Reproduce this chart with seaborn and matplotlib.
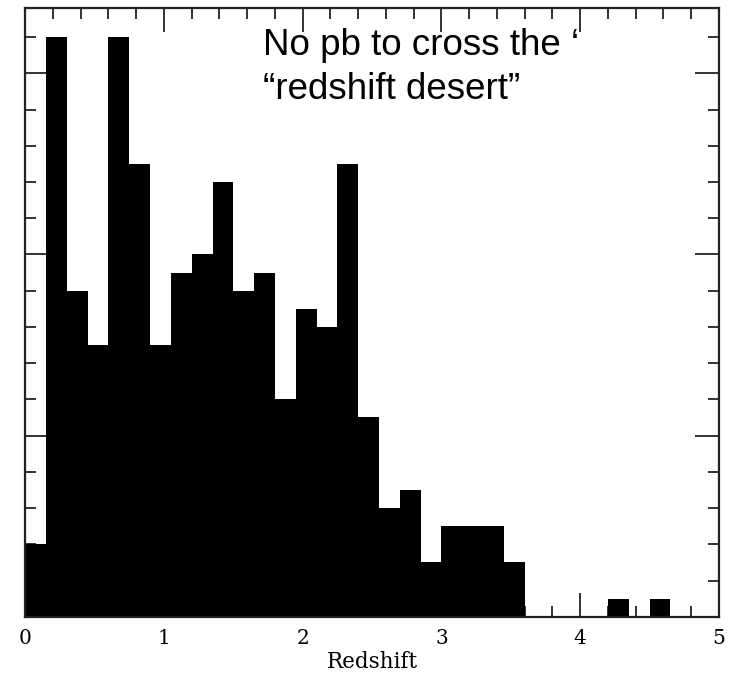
import numpy as np
import pandas as pd
import seaborn as sns
import matplotlib.pyplot as plt
from matplotlib.ticker import MultipleLocator

# ================= DATA =================
BIN_WIDTH = 0.15
counts = [4, 32, 18, 15, 32, 25, 15, 19, 20, 24,
          18, 19, 12, 17, 16, 25, 11, 6, 7, 3,
          5, 5, 5, 3, 0, 0, 0, 0, 1, 0, 1]
bin_edges = np.round(np.arange(len(counts) + 1) * BIN_WIDTH, 2)
bin_centers = bin_edges[:-1] + BIN_WIDTH / 2

df = pd.DataFrame({"z": bin_centers, "n": counts})

# ================= PLOT =================
sns.set_style("ticks")
plt.rcParams["font.family"] = ["DejaVu Serif"]
plt.rcParams["text.color"] = "black"
plt.rcParams["xtick.color"] = "black"
plt.rcParams["ytick.color"] = "black"

fig = plt.figure(figsize=(7.42, 6.77), dpi=100)
ax = fig.add_axes([0.034, 0.089, 0.935, 0.899])

sns.histplot(data=df, x="z", weights="n", bins=bin_edges.tolist(),
             color="black", alpha=1, linewidth=0, ax=ax)

ax.set_xlim(0, 5)
ax.set_ylim(0, 33.6)
ax.xaxis.set_major_locator(MultipleLocator(1))
ax.xaxis.set_minor_locator(MultipleLocator(0.2))
ax.yaxis.set_major_locator(MultipleLocator(10))
ax.yaxis.set_minor_locator(MultipleLocator(2))
ax.tick_params(which="both", direction="in", top=True, right=True,
               width=1.3, color="#222222")
ax.tick_params(which="major", length=17, labelsize=14.5, pad=9)
ax.tick_params(which="minor", length=8)
ax.set_yticklabels([])
ax.set_ylabel("")
ax.set_xlabel("Redshift", fontsize=15.5, labelpad=2, color="black")
for s in ax.spines.values():
    s.set_linewidth(1.6)
    s.set_color("#222222")

ax.text(0.343, 0.968, "No pb to cross the \u2018\n\u201credshift desert\u201d",
        transform=ax.transAxes, ha="left", va="top", color="black",
        fontsize=26.5, family="Liberation Sans", linespacing=1.35)

fig.savefig("out.png", dpi=100)
